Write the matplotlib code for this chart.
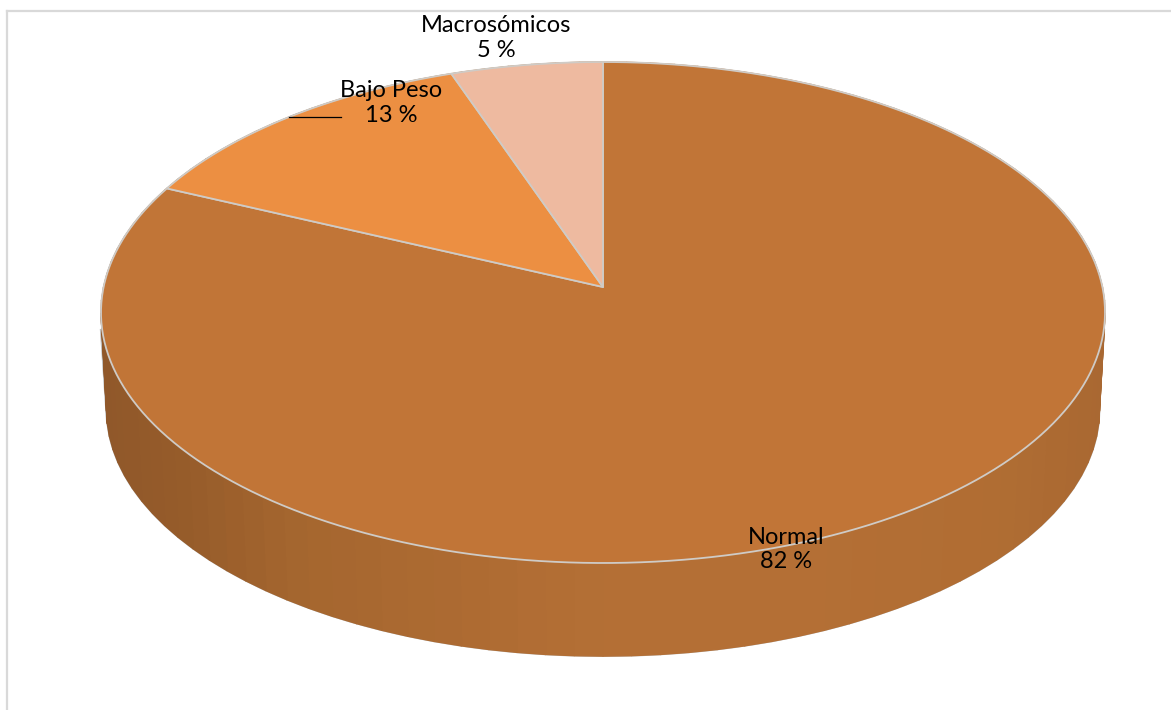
import numpy as np
import matplotlib
matplotlib.use("Agg")
import matplotlib.pyplot as plt
from matplotlib.colors import to_rgb

# slices, clockwise from 12 o'clock
names = ["Normal", "Bajo Peso", "Macrosómicos"]
values = [81.8, 12.8, 5.4]
colors = ["#C17537", "#EC8F42", "#EEBAA0"]

plt.rcParams['font.family'] = ['Lato', 'DejaVu Sans']

W, H = 1171, 710
fig = plt.figure(figsize=(W / 100, H / 100), dpi=100)
ax = fig.add_axes([0, 0, 1, 1])
ax.set_xlim(0, W)
ax.set_ylim(H, 0)
ax.axis("off")


# tilted disc: unit circle -> pixels, with perspective
def top_rim(t):
    u, v = np.sin(t), np.cos(t)
    d = 1 + 0.1018 * v
    return 603 + 499.4 * u / d, 287 - 247.9 * v / d


def low_rim(t):
    u, v = np.sin(t), np.cos(t)
    d = 1 + 0.1 * v
    return 603 + 494 * u / d, 385 - 244 * v / d


# side wall, shaded in facets like the 3d pie
shade_x = [100, 170, 300, 600, 800, 1000, 1105]
shade_c = ["#90582A", "#955B2A", "#A5662F", "#B46F35", "#B46F35", "#B06D33", "#A96832"]
shade_rgb = np.array([to_rgb(c) for c in shade_c])

edges = np.radians(np.arange(0, 361, 3))
for a, b in zip(edges[:-1], edges[1:]):
    t = np.array([a, b])
    xt, yt = top_rim(t)
    xl, yl = low_rim(t)
    col = [np.interp(xt.mean(), shade_x, shade_rgb[:, i]) for i in range(3)]
    ax.fill([xt[0], xt[1], xl[1], xl[0]], [yt[0], yt[1], yl[1], yl[0]],
            facecolor=col, edgecolor=col, lw=1.0, zorder=2)

# silhouette of the wall
t = np.radians(np.linspace(0, 360, 361))
xl, yl = low_rim(t)
ax.plot(xl, yl, color="#BDBDBD", lw=1.2, zorder=1.5)
ax.plot([101, 107], [330, 420], color="#BDBDBD", lw=1.6, zorder=1.5)
ax.plot([1104, 1098], [330, 420], color="#BDBDBD", lw=1.6, zorder=1.5)

# top face
angles = np.concatenate([[0], np.cumsum(values)]) / sum(values) * 2 * np.pi
for i in range(len(values)):
    t = np.linspace(angles[i], angles[i + 1], 200)
    xs, ys = top_rim(t)
    ax.fill(np.r_[603, xs], np.r_[287, ys],
            facecolor=colors[i], edgecolor="#CFCBC6", lw=1.3,
            joinstyle="round", zorder=3)

# labels
label_pos = [(786, 549.5), (391, 103), (496, 38)]
for name, val, pos in zip(names, values, label_pos):
    ax.text(pos[0], pos[1], f"{name}\n{val:.0f} %", ha="center", va="center",
            fontsize=17, color="black", linespacing=1.2, zorder=5)

# leader line of Bajo Peso
ax.plot([289, 341], [117, 117], color="black", lw=0.9, zorder=4)

# chart frame, only top and left fall inside the crop
ax.plot([7, W], [11, 11], color="#D9D9D9", lw=1.6, zorder=0)
ax.plot([7, 7], [11, H], color="#D9D9D9", lw=1.6, zorder=0)

fig.savefig("out.png", dpi=100)
